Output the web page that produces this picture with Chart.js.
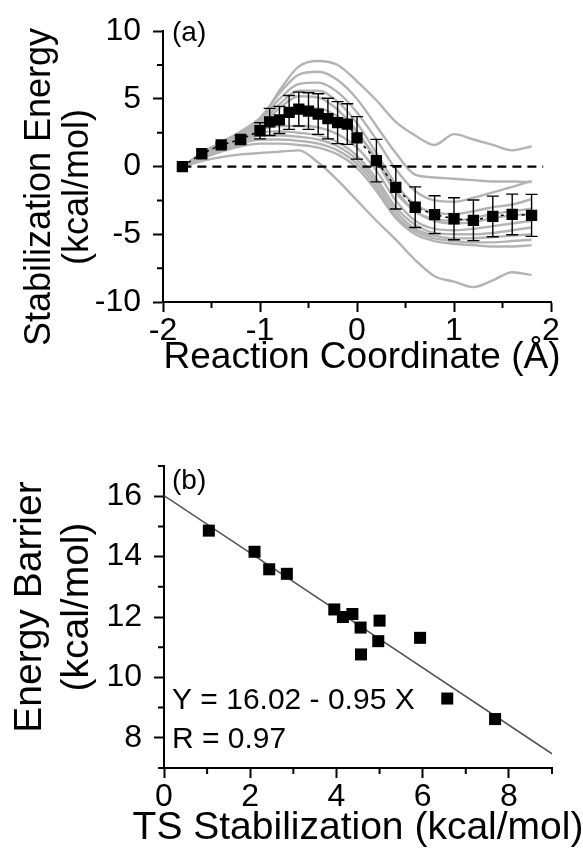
<!DOCTYPE html>
<html>
<head>
<meta charset="utf-8">
<script src="https://cdn.jsdelivr.net/npm/chart.js@4.4.1/dist/chart.umd.min.js"></script>
<style>
html,body{margin:0;padding:0;background:#fff;}
#wrap{position:relative;width:583px;height:848px;overflow:hidden;}
canvas{position:absolute;left:0;}
#ca{top:0;} #cb{top:424px;}
</style>
</head>
<body>
<div id="wrap">
  <canvas id="ca" width="583" height="424"></canvas>
  <canvas id="cb" width="583" height="424"></canvas>
</div>
<script>
// ── PANEL (a): stabilization energy along the reaction coordinate ─────────────
const meanX   = [-1.8,-1.6,-1.4,-1.2,-1.0,-0.9,-0.8,-0.7,-0.6,-0.5,-0.4,-0.3,-0.2,-0.1,0.0,0.2,0.4,0.6,0.8,1.0,1.2,1.4,1.6,1.8];
const meanY   = [0,0.95,1.6,2.0,2.65,3.3,3.45,4.0,4.25,4.1,3.88,3.55,3.25,3.14,2.12,0.44,-1.53,-3.0,-3.55,-3.85,-3.97,-3.68,-3.53,-3.6];
const meanErr = [0,0,0.15,0.3,0.6,1.0,1.0,1.25,1.25,1.35,1.5,1.5,1.55,1.5,1.57,1.57,1.6,1.5,1.4,1.55,1.5,1.5,1.5,1.55];

// individual systems (grey), sampled on grayX
const grayX = [-1.8,-1.6,-1.4,-1.2,-1.0,-0.8,-0.6,-0.4,-0.2,0.0,0.2,0.4,0.6,0.8,1.0,1.2,1.4,1.6,1.8];
const gray1  = [0,1.0,1.8,2.5,3.4,5.6,7.4,7.8,7.5,6.3,4.9,3.3,2.3,1.6,2.4,2.0,1.6,1.2,1.5];
const gray2  = [0,1.0,1.8,2.6,3.6,5.4,6.8,7.0,6.4,5.0,3.0,1.0,-0.6,-0.8,-0.9,-1.0,-1.1,-1.1,-1.15];
const gray3  = [0,0.9,1.7,2.5,3.4,5.0,6.1,6.2,5.5,4.0,2.0,-0.2,-1.8,-2.5,-2.6,-2.3,-1.9,-1.5,-1.05];
const gray4  = [0,0.9,1.7,2.4,3.2,4.6,5.6,5.6,4.8,3.2,1.0,-1.3,-2.8,-3.4,-3.5,-3.3,-3.0,-2.8,-2.4];
const gray5  = [0,0.9,1.6,2.3,3.0,4.3,5.2,5.1,4.2,2.6,0.4,-1.9,-3.3,-3.9,-4.0,-3.8,-3.5,-3.3,-3.1];
const gray6  = [0,0.8,1.5,2.2,2.9,3.6,4.2,4.3,3.7,2.5,0.6,-1.7,-3.3,-4.0,-4.2,-4.1,-3.8,-3.6,-3.5];
const gray7  = [0,0.8,1.5,2.1,2.7,3.0,3.0,2.9,2.4,1.4,-0.3,-2.5,-4.0,-4.6,-4.7,-4.6,-4.4,-4.2,-4.0];
const gray8  = [0,0.8,1.4,2.0,2.5,2.6,2.5,2.3,1.8,0.8,-0.9,-3.0,-4.3,-4.9,-5.0,-5.0,-4.9,-4.7,-4.5];
const gray9  = [0,0.7,1.3,1.8,2.3,2.3,2.2,2.0,1.5,0.5,-1.2,-3.3,-4.6,-5.1,-5.3,-5.3,-5.2,-5.1,-5.0];
const gray10 = [0,0.7,1.2,1.7,2.0,2.0,1.9,1.7,1.2,0.2,-1.5,-3.6,-4.8,-5.3,-5.5,-5.6,-5.6,-5.5,-5.4];
const gray11 = [0,0.6,1.1,1.5,1.7,1.7,1.6,1.4,0.9,-0.1,-1.8,-3.8,-5.0,-5.5,-5.7,-5.8,-5.9,-5.9,-5.8];
const gray12 = [0,0.4,0.7,0.9,1.0,1.1,1.2,0.3,-1.0,-2.5,-4.0,-5.4,-6.9,-8.1,-8.5,-8.9,-8.4,-7.8,-8.0];
const grayCurves = [gray1,gray2,gray3,gray4,gray5,gray6,gray7,gray8,gray9,gray10,gray11,gray12];

const zeroX = [-1.8, 1.92];
const zeroY = [0, 0];

// ── PANEL (b): barrier vs TS stabilization ───────────────────────────────────
const tsX      = [1.04,2.10,2.44,2.85,3.95,4.15,4.37,4.56,5.00,4.97,4.57,5.94,6.57,7.68];
const barrierY = [14.86,14.16,13.58,13.43,12.25,12.0,12.1,11.65,11.88,11.2,10.76,11.31,9.3,8.62];
const fitX = [0, 9];
const fitY = [16.02, 7.47];

const FONT = "'Liberation Sans', Arial, Helvetica, sans-serif";
const pts = (xs, ys) => xs.map((x,i)=>({x, y:ys[i]}));

// error bars drawn under the squares of the dataset that carries `errors`
const errBars = {
  id:'errBars',
  beforeDatasetDraw(chart, args){
    const ds = chart.data.datasets[args.index];
    if(!ds.errors) return;
    const {ctx, scales:{x,y}} = chart;
    ctx.save();
    ctx.strokeStyle='#000'; ctx.lineWidth=1.4;
    ctx.beginPath();
    ds.data.forEach((p,i)=>{
      const e = ds.errors[i]; if(!e) return;
      const px = x.getPixelForValue(p.x);
      const y1 = y.getPixelForValue(p.y+e), y2 = y.getPixelForValue(p.y-e);
      ctx.moveTo(px,y1); ctx.lineTo(px,y2);
      ctx.moveTo(px-6,y1); ctx.lineTo(px+6,y1);
      ctx.moveTo(px-6,y2); ctx.lineTo(px+6,y2);
    });
    ctx.stroke();
    ctx.restore();
  }
};

// short minor ticks + free text (panel letters, axis titles, fit equation)
function mkDecor(minX, minY, texts){
  return {
    id:'decor',
    afterDraw(chart){
      const {ctx, chartArea:a, scales:{x,y}} = chart;
      ctx.save();
      ctx.strokeStyle='#000'; ctx.lineWidth=2;
      ctx.beginPath();
      minX.forEach(v=>{const p=x.getPixelForValue(v); ctx.moveTo(p,a.bottom); ctx.lineTo(p,a.bottom+6);});
      minY.forEach(v=>{const p=y.getPixelForValue(v); ctx.moveTo(a.left,p); ctx.lineTo(a.left-6,p);});
      ctx.stroke();
      ctx.fillStyle='#000';
      texts.forEach(t=>{
        ctx.save();
        ctx.font = `${t.size}px ${FONT}`;
        ctx.textAlign = t.align||'center';
        ctx.textBaseline = 'middle';
        ctx.translate(t.x, t.y);
        if(t.rot) ctx.rotate(t.rot);
        ctx.fillText(t.text, 0, 0);
        ctx.restore();
      });
      ctx.restore();
    }
  };
}

// gen = step used to build ticks, lab = spacing of the labelled (major) ticks
function axes(xmin,xmax,xgen,xlab,ymin,ymax,ygen,ylab,yw,xh){
  const common = {
    type:'linear',
    grid:{display:true,drawOnChartArea:false,drawTicks:true,tickLength:10,tickWidth:2,tickColor:'#000'},
    border:{display:true,color:'#000',width:2}
  };
  const keep = step => s => { s.ticks = s.ticks.filter(t=>Math.abs(t.value/step-Math.round(t.value/step))<1e-6); };
  return {
    x:{...common, min:xmin, max:xmax,
       afterFit(s){s.height=xh;},
       afterBuildTicks:keep(xlab),
       ticks:{stepSize:xgen,autoSkip:false,maxRotation:0,color:'#000',padding:0,font:{family:FONT,size:32}}},
    y:{...common, min:ymin, max:ymax,
       afterFit(s){s.width=yw;},
       afterBuildTicks:keep(ylab),
       ticks:{stepSize:ygen,autoSkip:false,color:'#000',padding:12,font:{family:FONT,size:32}}}
  };
}

const baseOpts = {
  responsive:false, animation:false, devicePixelRatio:1,
  plugins:{legend:{display:false},tooltip:{enabled:false}}
};

// ── chart (a) ──
const grayDs = grayCurves.map(c=>({
  data:pts(grayX,c), showLine:true, borderColor:'#b3b3b3', borderWidth:2.4,
  pointRadius:0, tension:0.4, cubicInterpolationMode:'monotone', order:3
}));
new Chart(document.getElementById('ca'), {
  type:'scatter',
  data:{datasets:[
    {data:pts(meanX,meanY), errors:meanErr, showLine:true, borderColor:'#000', borderWidth:1.5,
     borderDash:[3,4], pointStyle:'rect', pointRadius:8, pointBackgroundColor:'#000',
     pointBorderWidth:0, order:0},
    {data:pts(zeroX,zeroY), showLine:true, borderColor:'#000', borderWidth:2.2, borderDash:[9,6],
     pointRadius:0, order:2},
    ...grayDs
  ]},
  options:{...baseOpts,
    layout:{padding:{left:0,right:32,top:30,bottom:0}},
    scales:axes(-2,2,1,1,-10,10,5,5,163,122)},
  plugins:[errBars, mkDecor([-1.5,-0.5,0.5,1.5],[-7.5,-2.5,2.5,7.5],[
    {text:'(a)', x:172, y:33, size:28, align:'left'},
    {text:'Stabilization Energy', x:40, y:187, size:36, rot:-Math.PI/2},
    {text:'(kcal/mol)', x:78, y:187, size:36, rot:-Math.PI/2},
    {text:'Reaction Coordinate (Å)', x:362, y:358, size:37}
  ])]
});

// ── chart (b) ──
new Chart(document.getElementById('cb'), {
  type:'scatter',
  data:{datasets:[
    {data:pts(tsX,barrierY), pointStyle:'rect', pointRadius:8.5, pointBackgroundColor:'#000',
     pointBorderWidth:0, order:0},
    {data:pts(fitX,fitY), showLine:true, borderColor:'#555', borderWidth:1.6, pointRadius:0, order:1}
  ]},
  options:{...baseOpts,
    layout:{padding:{left:0,right:31,top:42,bottom:0}},
    scales:axes(0,9,1,2,7,17,1,2,164,80)},
  plugins:[mkDecor([1,3,5,7,9],[7,9,11,13,15,17],[
    {text:'(b)', x:172, y:57, size:28, align:'left'},
    {text:'Energy Barrier', x:30, y:183, size:39, rot:-Math.PI/2},
    {text:'(kcal/mol)', x:77, y:183, size:39, rot:-Math.PI/2},
    {text:'Y = 16.02 - 0.95 X', x:172, y:277, size:30, align:'left'},
    {text:'R = 0.97', x:172, y:316, size:30, align:'left'},
    {text:'TS Stabilization (kcal/mol)', x:358, y:404, size:39}
  ])]
});
</script>
</body>
</html>
